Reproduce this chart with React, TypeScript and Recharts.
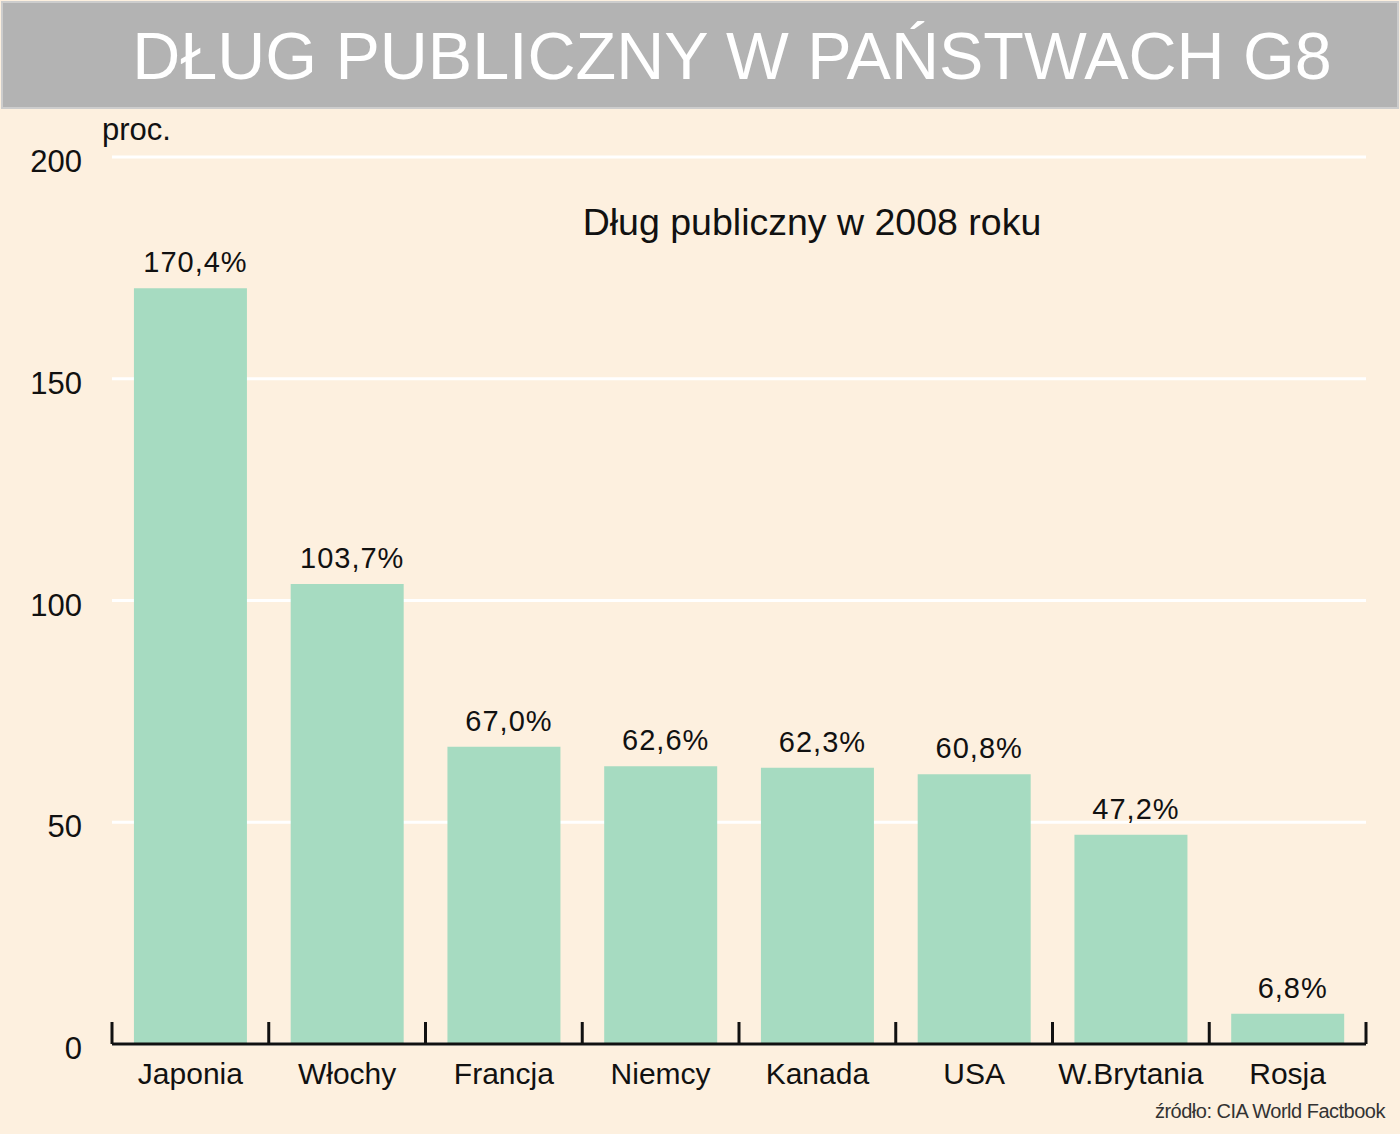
import { Bar, BarChart, CartesianGrid, LabelList, XAxis, YAxis } from "recharts";

const countries = ["Japonia", "Włochy", "Francja", "Niemcy", "Kanada", "USA", "W.Brytania", "Rosja"];
const debtPct = [170.4, 103.7, 67.0, 62.6, 62.3, 60.8, 47.2, 6.8];
const yTicks = [0, 50, 100, 150, 200];
const edgeTicks = countries.map((_, i) => i).concat(countries.length);

// pos = band centre on a 0..N numeric scale, used only for the tick marks between bars
const data = countries.map((name, i) => ({ name, value: debtPct[i], pos: i + 0.5 }));

const FONT = '"Liberation Sans", Arial, sans-serif';

const fmt = (v: number) => `${v.toFixed(1).replace(".", ",")}%`;

function CountryTick({ x, y, payload }: any) {
  return (
    <text x={x} y={y + 32} textAnchor="middle" fontSize={30} fontFamily={FONT} fill="#111">
      {payload.value}
    </text>
  );
}

// tick marks only, no labels
const NoLabel = () => <g />;

export default function App() {
  return (
    <div
      style={{
        position: "absolute",
        left: 0,
        top: 0,
        width: 1400,
        height: 1134,
        background: "#fdf0df",
        fontFamily: FONT,
        overflow: "hidden",
      }}
    >
      {/* title bar */}
      <div
        style={{
          position: "absolute",
          left: 1,
          top: 1,
          width: 1394,
          height: 104,
          background: "#b3b3b3",
          border: "2px solid #cdcdcd",
          color: "#fff",
          fontSize: 66.5,
          lineHeight: "106px",
          textAlign: "center",
        }}
      >
        <span style={{ position: "relative", left: 32 }}>DŁUG PUBLICZNY W PAŃSTWACH G8</span>
      </div>
      <div style={{ position: "absolute", left: 102, top: 112, fontSize: 31, color: "#111" }}>proc.</div>
      <div
        style={{
          position: "absolute",
          left: 462,
          width: 700,
          top: 201,
          fontSize: 37.5,
          textAlign: "center",
          color: "#111",
        }}
      >
        Dług publiczny w 2008 roku
      </div>
      <div
        style={{
          position: "absolute",
          right: 15,
          top: 1100,
          fontSize: 20,
          color: "#333",
          letterSpacing: -0.5,
        }}
      >
        źródło: CIA World Factbook
      </div>

      <div style={{ position: "absolute", left: 0, top: 0 }}>
        <BarChart
          width={1400}
          height={1134}
          data={data}
          margin={{ top: 157, right: 34, bottom: 0, left: 0 }}
          barCategoryGap="14%"
        >
          <CartesianGrid horizontal vertical={false} stroke="#ffffff" strokeWidth={3} />
          <YAxis
            width={112}
            domain={[0, 200]}
            ticks={yTicks}
            axisLine={false}
            tickLine={false}
            tickMargin={24}
            tick={{ fontSize: 31, fill: "#111", fontFamily: FONT, dy: 4 }}
          />
          <XAxis
            xAxisId="cat"
            dataKey="name"
            axisLine={false}
            tickLine={false}
            height={90}
            interval={0}
            tick={<CountryTick />}
          />
          <XAxis
            xAxisId="edges"
            dataKey="pos"
            type="number"
            domain={[0, countries.length]}
            ticks={edgeTicks}
            interval={0}
            allowDataOverflow
            mirror
            height={30}
            tick={NoLabel}
            tickSize={22}
            axisLine={{ stroke: "#111", strokeWidth: 3 }}
            tickLine={{ stroke: "#111", strokeWidth: 3 }}
          />
          <Bar dataKey="value" xAxisId="cat" fill="#a6dbc1" isAnimationActive={false}>
            <LabelList
              dataKey="value"
              position="top"
              offset={16}
              formatter={(v: any) => fmt(Number(v))}
              style={{ fontSize: 29, fill: "#111", fontFamily: FONT, letterSpacing: 1 }}
              dx={5}
            />
          </Bar>
        </BarChart>
      </div>
    </div>
  );
}
